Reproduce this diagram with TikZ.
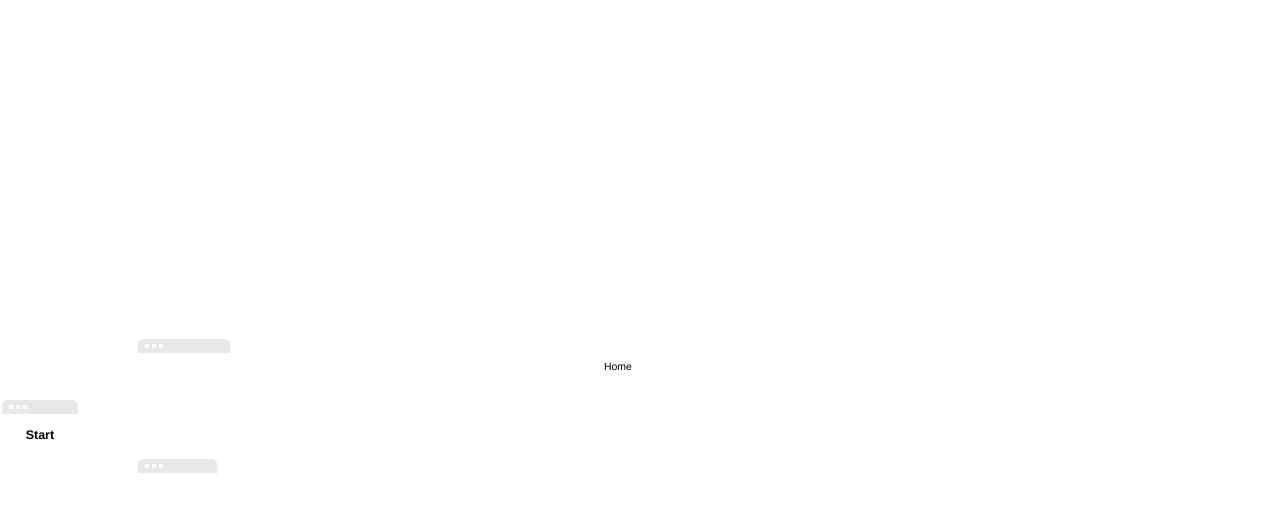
\documentclass[tikz,border=0pt]{standalone}
\usepackage{fontspec}
\setmainfont{Liberation Sans}
\usepackage{xcolor}
\definecolor{barfill}{HTML}{E8E8E8}

% window title bar: name, left x, top y, width
\newcommand{\winbar}[4]{%
  \fill[barfill] (#2,#3+14) [rounded corners=5] -- (#2,#3) -- (#2+#4,#3) [sharp corners] -- (#2+#4,#3+14) -- cycle;
  \coordinate (#1) at (#2,#3);
  \foreach \d in {0,1,2}
    \fill[white] ([xshift=7+7*\d, yshift=-5]#1) rectangle ++(3.5,3.5);
}

\begin{document}
\begin{tikzpicture}[x=1pt,y=-1pt]
\tikzset{label text/.style={text=black,inner sep=0pt}}
\tikzset{start text/.style={label text,font=\bfseries\fontsize{12.5}{14}\selectfont}}
\tikzset{home text/.style={label text,font=\fontsize{10.5}{12}\selectfont}}

\useasboundingbox (0,0) rectangle (1288,525);

\winbar{topbar}{138}{339}{92}
\winbar{startbar}{2}{400}{76}
\winbar{lowbar}{138}{459}{79}

\node[home text] (home) at (618,366.5) {Home};
\node[start text] (start) at (40,435) {Start};

\end{tikzpicture}
\end{document}
